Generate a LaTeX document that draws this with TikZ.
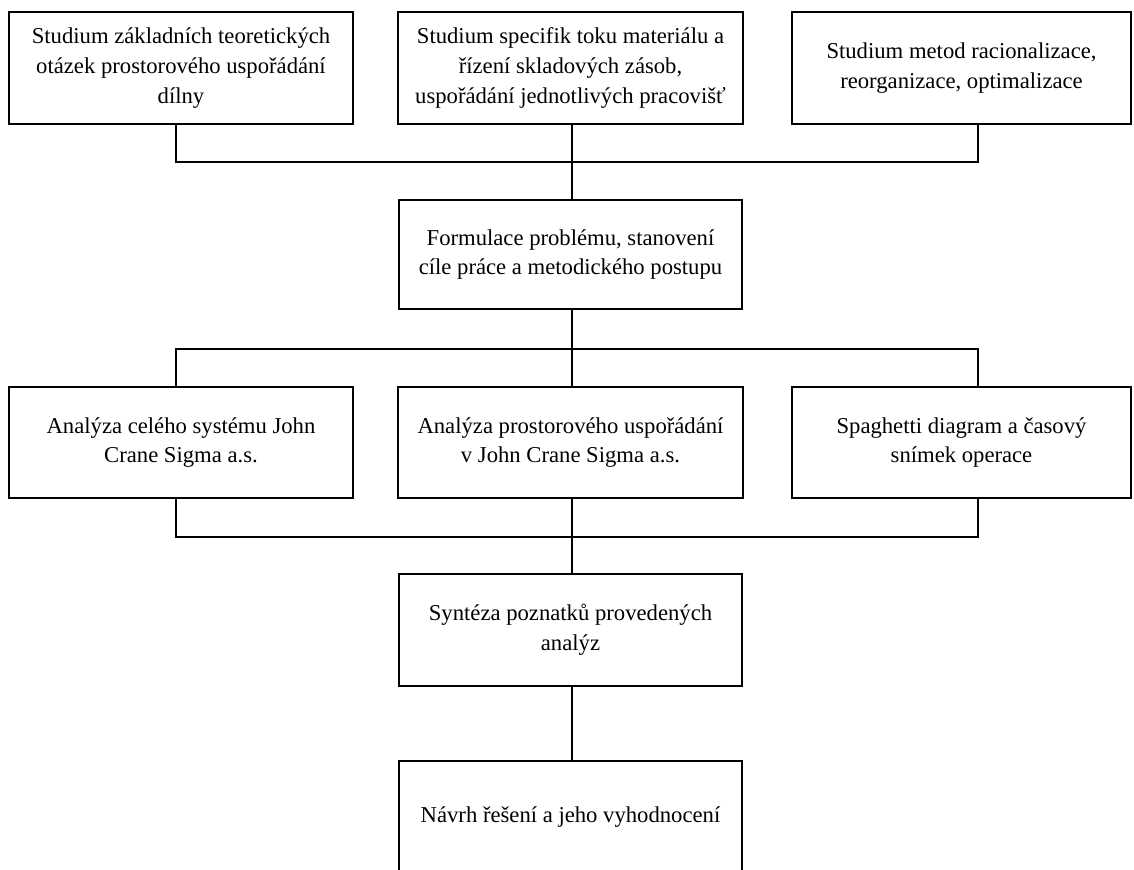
\documentclass[tikz,border=0pt]{standalone}
\usepackage{fontspec}
\setmainfont{Liberation Serif}
\begin{document}
\begin{tikzpicture}[x=0.75pt,y=-0.75pt,
  box/.style={draw,line width=1.3pt,rectangle,align=center,inner sep=0pt,
    font=\fontsize{17}{22.2}\selectfont},
  conn/.style={line width=1.3pt}]
\useasboundingbox (0,0) rectangle (1134,869);
% row 1
\node[box,minimum width=344*0.75pt,minimum height=112*0.75pt] (a1) at (181,68) {Studium základních teoretických\\otázek prostorového uspořádání\\dílny};
\node[box,minimum width=345*0.75pt,minimum height=112*0.75pt] (a2) at (570.5,68) {Studium specifik toku materiálu a\\řízení skladových zásob,\\uspořádání jednotlivých pracovišť};
\node[box,minimum width=339*0.75pt,minimum height=112*0.75pt] (a3) at (961.5,68) {Studium metod racionalizace,\\reorganizace, optimalizace};
% row 2
\node[box,minimum width=343*0.75pt,minimum height=109*0.75pt] (b) at (570.5,254.5) {Formulace problému, stanovení\\cíle práce a metodického postupu};
% row 3
\node[box,minimum width=344*0.75pt,minimum height=111*0.75pt] (c1) at (181,442.5) {Analýza celého systému John\\Crane Sigma a.s.};
\node[box,minimum width=345*0.75pt,minimum height=111*0.75pt] (c2) at (570.5,442.5) {Analýza prostorového uspořádání\\v John Crane Sigma a.s.};
\node[box,minimum width=339*0.75pt,minimum height=111*0.75pt] (c3) at (961.5,442.5) {Spaghetti diagram a časový\\snímek operace};
% row 4
\node[box,minimum width=343*0.75pt,minimum height=112*0.75pt] (d) at (570.5,630) {Syntéza poznatků provedených\\analýz};
% row 5
\node[box,minimum width=343*0.75pt,minimum height=112*0.75pt] (e) at (570.5,817) {Návrh řešení a jeho vyhodnocení};
% connectors
\coordinate (h1l) at (176,162);
\coordinate (h1m) at (572,162);
\coordinate (h1r) at (978,162);
\draw[conn] (a1.south -| h1l) -- (h1l) -- (h1r) -- (a3.south -| h1r);
\draw[conn] (a2.south -| h1m) -- (b.north -| h1m);
\coordinate (h2l) at (176,349);
\coordinate (h2m) at (572,349);
\coordinate (h2r) at (978,349);
\draw[conn] (b.south -| h2m) -- (c2.north -| h2m);
\draw[conn] (c1.north -| h2l) -- (h2l) -- (h2r) -- (c3.north -| h2r);
\coordinate (h3l) at (176,537);
\coordinate (h3m) at (572,537);
\coordinate (h3r) at (978,537);
\draw[conn] (c1.south -| h3l) -- (h3l) -- (h3r) -- (c3.south -| h3r);
\draw[conn] (c2.south -| h3m) -- (d.north -| h3m);
\draw[conn] (d.south -| h3m) -- (e.north -| h3m);
\end{tikzpicture}
\end{document}
